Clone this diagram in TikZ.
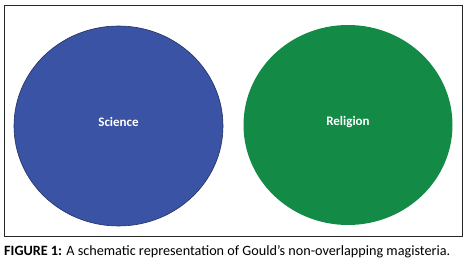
\documentclass[tikz,border=0pt]{standalone}
\usepackage{fontspec}
\setmainfont{Carlito}
\usetikzlibrary{shapes.geometric, positioning}
\definecolor{scienceblue}{HTML}{3A53A4}
\definecolor{religiongreen}{HTML}{138A45}
\tikzset{
    magisterium/.style={ellipse, minimum width=209pt, minimum height=200pt, inner sep=0pt, text depth=8pt, text=white, font=\fontsize{13}{15}\selectfont\bfseries},
    sciencedisc/.style={magisterium, fill=scienceblue, draw=scienceblue!60!black, line width=0.6pt},
    religiondisc/.style={magisterium, fill=religiongreen},
    frame/.style={draw=black!85, line width=0.8pt},
    figcaption/.style={anchor=base west, inner sep=0pt, font=\fontsize{14.2}{16}\selectfont}
}
\begin{document}
\begin{tikzpicture}[x=1pt, y=1pt]
\useasboundingbox (0,0) rectangle (467,265);

% Outer frame
\draw [frame] (4,29) rectangle (462,260);

% Magisteria
\node (science) [sciencedisc] at (118.5,139) {Science};
\node (religion) [religiondisc] at (348,140) {Religion};

% Caption
\node (caption) [figcaption] at (4,9.5) {\textbf{FIGURE 1:} A schematic representation of Gould’s non-overlapping magisteria.};

\end{tikzpicture}
\end{document}
